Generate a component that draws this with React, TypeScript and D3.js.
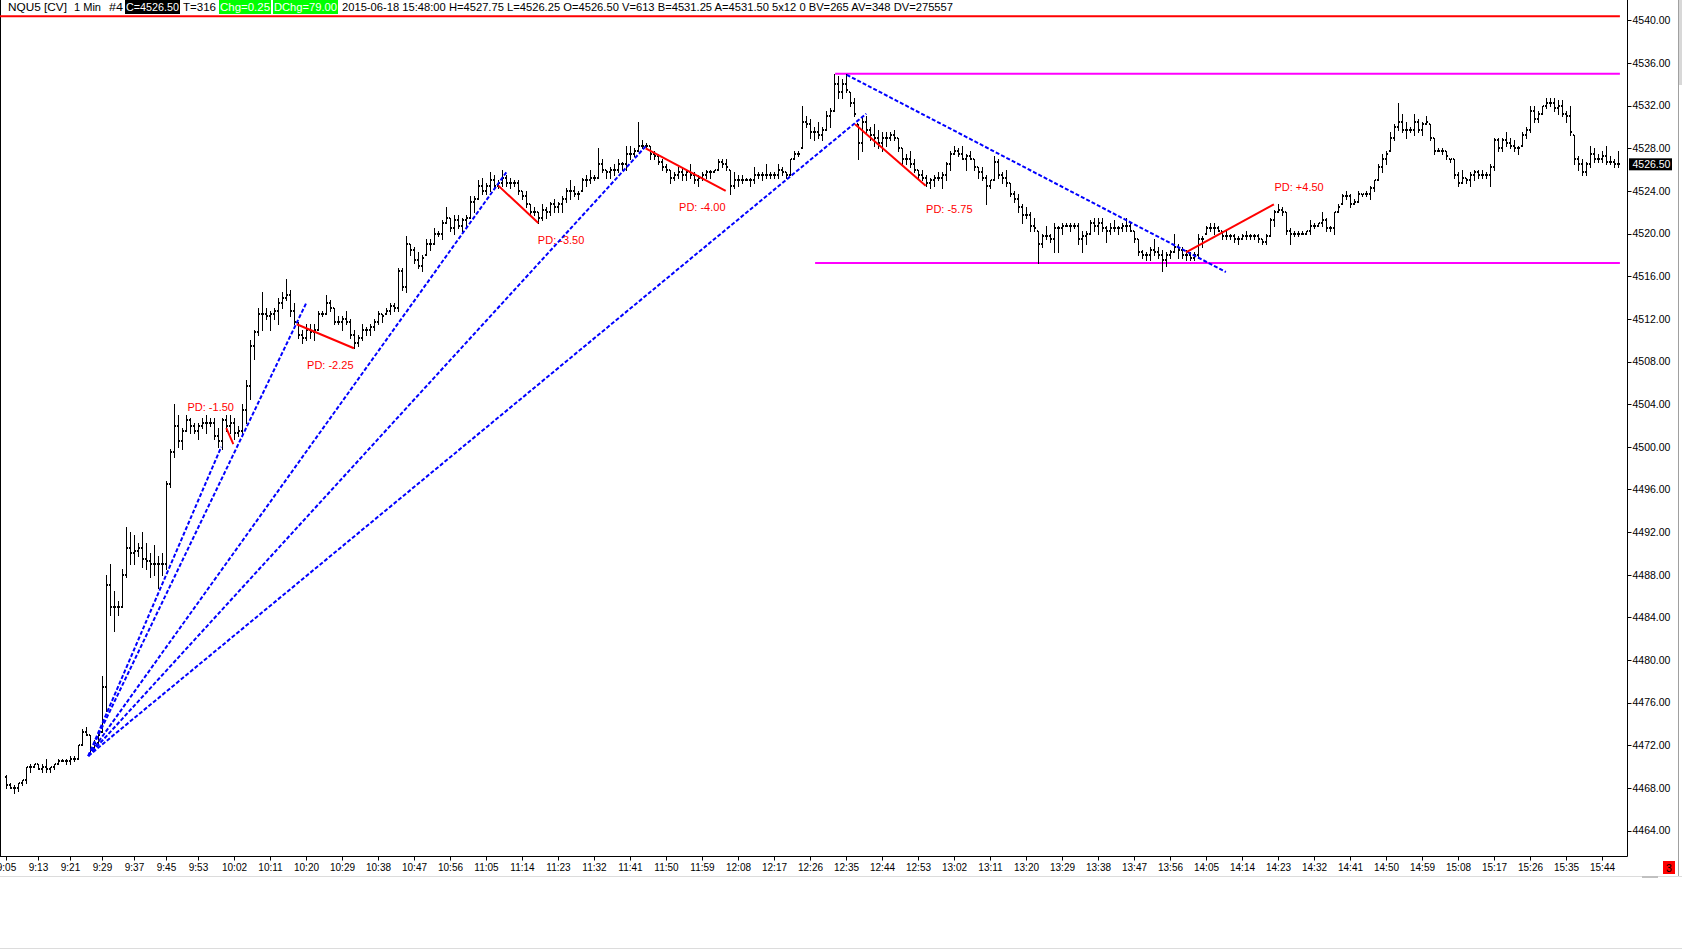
import * as d3 from "d3";

// NQU5 1 minute bars, 2015-06-18, first bar 9:05
const SESSION_START = "9:05";
const FIRST_OPEN = 4469;

const highs = [
  4469.25, 4468.5, 4468.25, 4468.5, 4468.75, 4470, 4470.25, 4470.25, 4470.25, 4470.25,
  4470.75, 4470, 4470.25, 4470.75, 4470.75, 4470.75, 4471, 4471, 4472, 4473.5,
  4473.75, 4473, 4472.5, 4473.25, 4478.5, 4488, 4489, 4486.5, 4485.5, 4488.5,
  4492.5, 4492, 4491.75, 4491, 4492, 4491, 4490, 4490.75, 4489.75, 4490,
  4496.75, 4499.75, 4504, 4503, 4501.75, 4503, 4502.75, 4502.25, 4502.25, 4502.75,
  4503, 4502.75, 4502.75, 4501.75, 4502.75, 4503, 4503, 4502.75, 4502, 4504,
  4506.25, 4510, 4511, 4513, 4514.5, 4513, 4512.75, 4513, 4514, 4514.5,
  4515.75, 4514.75, 4513.5, 4511.75, 4511, 4511.5, 4511.5, 4511.5, 4512.75, 4512.75,
  4514.25, 4513.75, 4513, 4512.25, 4512.25, 4512.75, 4512, 4511, 4510.5, 4511.5,
  4511.25, 4511.5, 4512, 4512.75, 4512.5, 4513, 4513.5, 4513.5, 4516.75, 4516.75,
  4519.75, 4519, 4518.75, 4518.25, 4518, 4519.5, 4519.5, 4520.5, 4520.25, 4521.25,
  4522.5, 4521.5, 4521.75, 4521.75, 4521.5, 4521.75, 4523.5, 4523.5, 4525, 4525.25,
  4524.75, 4525.75, 4525.5, 4525, 4526, 4525.5, 4525.25, 4525, 4525, 4524,
  4524, 4522.75, 4522.5, 4522, 4522.75, 4522.5, 4523, 4523.25, 4523, 4523.5,
  4524.25, 4525, 4524.5, 4524, 4525.25, 4525.5, 4526, 4525.5, 4528, 4527,
  4526, 4526.25, 4526.5, 4527, 4526.75, 4528.25, 4528.25, 4528, 4530.5, 4528.75,
  4528.5, 4528.25, 4527.75, 4527.5, 4527, 4526.5, 4526, 4525.75, 4526.25, 4526.25,
  4526, 4526.5, 4525.75, 4525.5, 4525.75, 4526, 4526, 4526, 4527, 4527,
  4527, 4526, 4525.75, 4525.5, 4525.5, 4525.25, 4525.25, 4526.25, 4525.75, 4525.75,
  4526.5, 4525.75, 4525.75, 4526.5, 4526.25, 4525.75, 4527, 4527.75, 4527.75, 4532,
  4531, 4530.75, 4530, 4530.5, 4530, 4531.5, 4531.75, 4535, 4534.75, 4534.5,
  4535, 4533.25, 4532.75, 4530.25, 4531, 4531, 4530, 4530.25, 4529.75, 4529.5,
  4529.5, 4529.5, 4529.75, 4529, 4528, 4527.5, 4527.75, 4527, 4526, 4526,
  4525.5, 4525.25, 4525.5, 4525.75, 4525.75, 4526.75, 4527.75, 4528.25, 4528, 4528.25,
  4527.5, 4527.75, 4527, 4526.25, 4526.25, 4525.5, 4525, 4527.25, 4527, 4525.75,
  4526, 4524.75, 4524, 4523.75, 4522.75, 4522.5, 4522, 4521.5, 4520.25, 4520,
  4520.75, 4520, 4521, 4520.75, 4521, 4521, 4521, 4521, 4521, 4520.25,
  4520.25, 4521.25, 4521.5, 4521.5, 4521.5, 4520.75, 4521, 4521.25, 4520.75, 4521,
  4521.5, 4521, 4520.25, 4519.5, 4518.5, 4518.25, 4518.75, 4519.5, 4518.75, 4518.5,
  4518.25, 4518.5, 4520, 4519, 4518.75, 4518.5, 4518.25, 4518.25, 4520, 4519.75,
  4520.75, 4521, 4521, 4520.75, 4520.25, 4520.25, 4520, 4520, 4519.75, 4520,
  4520.25, 4520, 4520, 4520, 4519.5, 4520, 4521.5, 4522.25, 4522.75, 4522.5,
  4522, 4520.5, 4520.25, 4520.25, 4520.25, 4520.25, 4521.25, 4521, 4521, 4522,
  4521.5, 4520.75, 4522, 4522.75, 4523.75, 4524, 4523.75, 4523.25, 4524, 4523.75,
  4524, 4524.5, 4525, 4526.5, 4527.5, 4527.75, 4529.5, 4530.25, 4532.25, 4531.25,
  4530.5, 4530, 4531.25, 4530.75, 4530.5, 4531, 4530.25, 4529, 4528, 4528,
  4527.75, 4527, 4527, 4525.75, 4526, 4525.25, 4525.75, 4526, 4526, 4526,
  4525.75, 4526.5, 4529, 4529, 4529, 4529.5, 4529, 4528.75, 4528.25, 4529.5,
  4530, 4532, 4532, 4531.5, 4532, 4532.75, 4532.75, 4532.75, 4532.5, 4532.5,
  4531.5, 4532, 4529.25, 4527.25, 4527, 4526.75, 4528.25, 4528, 4527.5, 4527.75,
  4528.25, 4527.25, 4527, 4527.75,
];

const lows = [
  4468, 4468, 4467.5, 4467.75, 4468.25, 4468.5, 4469.5, 4470, 4469.75, 4469.5,
  4469.5, 4469.5, 4469.75, 4470.25, 4470.5, 4470.25, 4470.25, 4470.5, 4470.75, 4472,
  4473, 4471.25, 4471.5, 4472.25, 4473.25, 4475.25, 4484.25, 4482.75, 4484.25, 4485,
  4487.75, 4489, 4489, 4489.75, 4488.75, 4488.5, 4487.75, 4488, 4486.75, 4488,
  4488.5, 4496.25, 4499, 4500, 4499.75, 4501.5, 4501.25, 4501.25, 4500.75, 4501.75,
  4501.25, 4502, 4500.75, 4500, 4499.75, 4501.5, 4501.25, 4500.75, 4501, 4501.25,
  4502.25, 4504.5, 4508.25, 4510.5, 4511, 4512, 4511, 4512, 4511.5, 4513,
  4513.75, 4512.25, 4511.5, 4510.25, 4509.75, 4510, 4510.25, 4510, 4511, 4512.25,
  4512.5, 4512.75, 4511.5, 4511.5, 4511, 4511.5, 4510.25, 4509.25, 4509.5, 4510,
  4510.5, 4510.5, 4511, 4511.5, 4511.75, 4512.5, 4512.5, 4512.75, 4512.75, 4514.75,
  4514.5, 4518, 4517.25, 4516.75, 4516.5, 4518, 4518.5, 4519, 4519.75, 4519.5,
  4521, 4520.25, 4520, 4520.5, 4520.25, 4520.75, 4521.5, 4522, 4523.25, 4523.75,
  4523.75, 4524, 4524.25, 4524.25, 4524.5, 4524.5, 4524.25, 4524.5, 4523.75, 4523.25,
  4522.5, 4521.75, 4521.75, 4521, 4521.25, 4521.5, 4521.75, 4522, 4522, 4522,
  4523, 4523.25, 4523.5, 4523.25, 4524, 4524.5, 4524.75, 4525, 4525.25, 4525.75,
  4525.25, 4525.25, 4525.5, 4525.75, 4526, 4526, 4527, 4527.25, 4527.75, 4528,
  4528, 4527, 4527, 4526.5, 4526, 4525.75, 4524.75, 4525, 4525.25, 4525,
  4525, 4525.25, 4524.75, 4524.5, 4525, 4525.25, 4525.25, 4525.75, 4526, 4526.25,
  4526, 4523.75, 4524.25, 4524.5, 4524.75, 4525, 4524.5, 4524.75, 4525.25, 4525,
  4525.25, 4525.25, 4525.25, 4525.25, 4525.5, 4525.25, 4525.5, 4527, 4527.25, 4528,
  4530, 4529, 4528.75, 4529, 4528.75, 4529.75, 4530, 4531.5, 4532.75, 4532.75,
  4533.25, 4532, 4531, 4527, 4527.75, 4529.5, 4528.75, 4528.25, 4528, 4527.75,
  4528.25, 4528.75, 4528.75, 4527.75, 4526.5, 4526.5, 4526.25, 4525.75, 4525.25, 4525,
  4524.5, 4524.25, 4524.5, 4525, 4524.25, 4525, 4526, 4527.5, 4527.25, 4527,
  4526, 4527, 4526, 4525.25, 4525, 4522.75, 4524.25, 4525, 4525.25, 4524.75,
  4524.5, 4523.5, 4523, 4522, 4521, 4521.5, 4520.25, 4520.25, 4517.25, 4518.75,
  4519.5, 4519.25, 4518.25, 4518.25, 4520, 4520.75, 4520.25, 4520.5, 4519, 4518.25,
  4519, 4520, 4520.25, 4520, 4520.25, 4519.25, 4520, 4520.25, 4520, 4520.25,
  4520.25, 4520.25, 4519.25, 4518, 4517.75, 4517.5, 4517.5, 4518, 4517.75, 4516.5,
  4517, 4517.75, 4518.25, 4517.75, 4517.75, 4517.5, 4517.5, 4517.5, 4517.75, 4518.75,
  4520, 4520.25, 4520, 4520.25, 4519.5, 4519.5, 4519.5, 4519.25, 4519, 4519.5,
  4519.5, 4519.5, 4519.5, 4519.25, 4519, 4519, 4519.75, 4520.75, 4522, 4521.75,
  4520, 4519, 4519.75, 4519.75, 4520, 4520, 4520, 4520.5, 4520.75, 4520.75,
  4520.25, 4520.25, 4520, 4522, 4522.75, 4523.25, 4522.5, 4522.75, 4523, 4523.5,
  4523.5, 4523.25, 4524, 4525, 4525.75, 4526.5, 4527.75, 4528.75, 4529.75, 4529.5,
  4529, 4529.5, 4529.25, 4529.5, 4529.25, 4530.25, 4528.75, 4527.5, 4527.75, 4527.5,
  4527, 4526.75, 4525.25, 4524.5, 4524.75, 4524.75, 4524.5, 4525, 4525.25, 4525.25,
  4525.25, 4524.5, 4526, 4527.75, 4527.75, 4528.25, 4528, 4527.75, 4527.5, 4528.25,
  4529, 4529.5, 4530.5, 4530.5, 4531.25, 4531.75, 4532, 4531.5, 4531.25, 4531,
  4530.5, 4529.25, 4526.5, 4526, 4525.5, 4525.5, 4526.25, 4526.75, 4526.75, 4526.75,
  4526.5, 4526.5, 4526.25, 4526.25,
];

const closes = [
  4468.25, 4468, 4468, 4468.5, 4468.75, 4470, 4470, 4470.25, 4469.75, 4470,
  4469.75, 4470, 4470.25, 4470.5, 4470.5, 4470.5, 4470.75, 4470.75, 4472, 4473.25,
  4473, 4471.75, 4472.25, 4473, 4477.5, 4487, 4485, 4485, 4485, 4488,
  4490.5, 4490, 4490.25, 4490.5, 4489.5, 4489.25, 4489, 4489, 4489, 4489,
  4496.5, 4499.5, 4502, 4500.5, 4501.5, 4502.5, 4502, 4501.5, 4502, 4502.25,
  4502.25, 4502.25, 4501, 4500.5, 4502.5, 4502, 4502.25, 4501.25, 4501.5, 4503.5,
  4505.75, 4509.5, 4510.75, 4512.5, 4512.5, 4512.25, 4512.5, 4512.75, 4513.5, 4514,
  4514.25, 4512.75, 4511.75, 4510.5, 4510.25, 4511, 4510.75, 4511, 4512.5, 4512.5,
  4513.5, 4513, 4511.75, 4511.75, 4512, 4511.75, 4510.5, 4509.75, 4510.25, 4511,
  4511, 4511.25, 4511.75, 4512.5, 4512.25, 4512.75, 4513.25, 4513, 4516.5, 4515,
  4519, 4518.5, 4517.5, 4517, 4517.75, 4519, 4519, 4520, 4520, 4521,
  4521.5, 4520.5, 4521.25, 4520.75, 4521.25, 4521.5, 4523, 4523.25, 4524.5, 4524,
  4524.5, 4525, 4524.5, 4524.75, 4525.25, 4524.75, 4524.75, 4524.75, 4524, 4523.5,
  4522.75, 4522, 4522, 4521.5, 4522.25, 4522, 4522.75, 4522.5, 4522.75, 4523.25,
  4524, 4524, 4523.75, 4523.75, 4525, 4525, 4525.25, 4525.25, 4526.5, 4526,
  4525.75, 4526, 4526, 4526.5, 4526.5, 4527.5, 4527.5, 4527.75, 4528.25, 4528.25,
  4528.25, 4527.5, 4527.25, 4526.75, 4526.25, 4526, 4525.25, 4525.5, 4525.75, 4525.5,
  4525.75, 4525.5, 4525, 4525.25, 4525.5, 4525.75, 4525.75, 4526, 4526.75, 4526.5,
  4526.25, 4524.5, 4525, 4525, 4525, 4525, 4525, 4525.5, 4525.5, 4525.5,
  4525.5, 4525.5, 4525.5, 4526, 4525.75, 4525.5, 4527, 4527.5, 4527.5, 4530.5,
  4530.25, 4529.5, 4529.5, 4529.25, 4529.75, 4531, 4531.5, 4534, 4533.25, 4534,
  4533.5, 4532.25, 4531.25, 4528.5, 4530.5, 4529.75, 4529.25, 4529, 4528.5, 4529,
  4529, 4529.25, 4529, 4528, 4527, 4527, 4526.5, 4526, 4525.5, 4525.25,
  4524.75, 4525, 4525.25, 4525.25, 4525.5, 4526.5, 4527.5, 4527.75, 4527.5, 4527,
  4527.25, 4527, 4526.25, 4525.75, 4525.25, 4524.5, 4525, 4526.75, 4525.5, 4525.25,
  4524.75, 4523.75, 4523.25, 4522.5, 4521.75, 4521.75, 4520.75, 4520.5, 4519, 4519.75,
  4519.75, 4519.5, 4520.5, 4520.5, 4520.75, 4520.75, 4520.75, 4520.75, 4519.5, 4519.75,
  4520, 4521, 4520.75, 4521, 4520.5, 4520.25, 4520.5, 4520.5, 4520.5, 4520.75,
  4520.75, 4520.25, 4519.5, 4518.25, 4518, 4518, 4518.5, 4518.25, 4518, 4517.5,
  4518, 4518.25, 4518.75, 4518.5, 4518, 4518, 4517.75, 4518, 4519.5, 4519.5,
  4520.5, 4520.5, 4520.5, 4520.25, 4519.75, 4519.75, 4519.75, 4519.5, 4519.5, 4519.75,
  4519.75, 4519.75, 4519.75, 4519.5, 4519.25, 4519.75, 4521.25, 4522, 4522.25, 4522,
  4520.25, 4520, 4520, 4520, 4520, 4520.25, 4520.75, 4520.75, 4521, 4521.25,
  4520.5, 4520.5, 4522, 4522.5, 4523.5, 4523.5, 4522.75, 4523, 4523.75, 4523.75,
  4523.75, 4524.25, 4525, 4526.25, 4527, 4527.5, 4529, 4530, 4530.5, 4529.75,
  4529.75, 4529.75, 4530.5, 4529.75, 4530.25, 4530.5, 4529, 4527.75, 4527.75, 4527.75,
  4527.25, 4527, 4525.5, 4524.75, 4525.25, 4525, 4525.5, 4525.75, 4525.5, 4525.5,
  4525.5, 4526.25, 4528.75, 4528, 4528.75, 4528.5, 4528.25, 4528, 4528, 4529.25,
  4529.75, 4531.5, 4530.75, 4531.25, 4532, 4532.25, 4532.25, 4531.75, 4532, 4531.25,
  4531, 4529.5, 4527, 4526.5, 4525.75, 4526.5, 4527.5, 4527, 4527, 4527.25,
  4526.75, 4526.75, 4526.5, 4526.5,
];

const timeLabels = [
  "9:05", "9:13", "9:21", "9:29", "9:37", "9:45", "9:53", "10:02", "10:11", "10:20",
  "10:29", "10:38", "10:47", "10:56", "11:05", "11:14", "11:23", "11:32", "11:41", "11:50",
  "11:59", "12:08", "12:17", "12:26", "12:35", "12:44", "12:53", "13:02", "13:11", "13:20",
  "13:29", "13:38", "13:47", "13:56", "14:05", "14:14", "14:23", "14:32", "14:41", "14:50",
  "14:59", "15:08", "15:17", "15:26", "15:35", "15:44",
];

const priceTicks = [
  4464, 4468, 4472, 4476, 4480, 4484, 4488, 4492, 4496, 4500,
  4504, 4508, 4512, 4516, 4520, 4524, 4528, 4532, 4536, 4540,
];

// drawings, in (bar index, price)
const fanOrigin = { bar: 20.5, price: 4471 };
const fanTargets = [
  { bar: 53.75, price: 4500 },
  { bar: 75, price: 4513.5 },
  { bar: 125, price: 4525.75 },
  { bar: 160, price: 4528.25 },
  { bar: 215, price: 4531.25 },
];
const downTrend = { from: { bar: 210.1, price: 4534.9 }, to: { bar: 304.9, price: 4516.4 } };

const redLevel = { price: 4540.4, from: -2, to: 403.4 };
const rangeLevels = [
  { price: 4535, from: 207.2, to: 403.4 },
  { price: 4517.25, from: 202.2, to: 403.4 },
];

const priceDiffs = [
  { a: [55, 4501.75], b: [56.75, 4500.25], label: "PD: -1.50", at: [51.1, 4503.7] },
  { a: [72.6, 4511.5], b: [86.9, 4509.25], label: "PD: -2.25", at: [81, 4507.7] },
  { a: [123, 4524.5], b: [133, 4521], label: "PD: -3.50", at: [138.7, 4519.4] },
  { a: [159.85, 4528], b: [179.85, 4524], label: "PD: -4.00", at: [174, 4522.5] },
  { a: [212.2, 4530.25], b: [229.85, 4524.5], label: "PD: -5.75", at: [235.75, 4522.3] },
  { a: [294.9, 4518.25], b: [316.9, 4522.75], label: "PD: +4.50", at: [323.2, 4524.4] },
];

const lastPrice = 4526.5;
const headerRest =
  "2015-06-18 15:48:00 H=4527.75 L=4526.25 O=4526.50 V=613 B=4531.25 A=4531.50 5x12 0 BV=265 AV=348 DV=275557";

const W = 1682;
const H = 949;
const AXIS_X = 1627.5;
const AXIS_Y = 856.5;
const FONT = "'Liberation Sans', Arial, sans-serif";

function minutesOf(t: string) {
  const [h, m] = t.split(":").map(Number);
  return h * 60 + m;
}

export default function App() {
  const x = d3.scaleLinear().domain([0, closes.length - 1]).range([6.3, 6.3 + 4 * (closes.length - 1)]);
  const y = d3.scaleLinear().domain([4464, 4540]).range([830.6, 20.4]);
  const start = minutesOf(SESSION_START);

  const bars = closes.map((c, i) => {
    const prev = i === 0 ? FIRST_OPEN : closes[i - 1];
    const o = Math.min(highs[i], Math.max(lows[i], prev));
    const px = Math.round(x(i));
    const yh = Math.round(y(highs[i]));
    const yl = Math.round(y(lows[i]));
    return { px, yh, yl, yo: Math.round(y(o)), yc: Math.round(y(c)) };
  });

  const line = (x1: number, y1: number, x2: number, y2: number) => ({
    x1: x(x1), y1: y(y1), x2: x(x2), y2: y(y2),
  });

  return (
    <svg
      width={W}
      height={H}
      viewBox={`0 0 ${W} ${H}`}
      style={{ position: "absolute", left: 0, top: 0, display: "block", background: "#fff" }}
      fontFamily={FONT}
    >
      <rect x={0} y={0} width={W} height={H} fill="#fff" />

      {/* header */}
      <g fontSize={11} fill="#000">
        <text x={8} y={11} textLength={59} lengthAdjust="spacingAndGlyphs">NQU5 [CV]</text>
        <text x={74} y={11} textLength={27} lengthAdjust="spacingAndGlyphs">1 Min</text>
        <text x={109} y={11} textLength={14} lengthAdjust="spacingAndGlyphs">#4</text>
        <rect x={125} y={0} width={55} height={14} fill="#000" />
        <text x={126} y={11} fill="#fff" textLength={53} lengthAdjust="spacingAndGlyphs">C=4526.50</text>
        <text x={183} y={11} textLength={33} lengthAdjust="spacingAndGlyphs">T=316</text>
        <rect x={219} y={0} width={52} height={14} fill="#00ff00" />
        <text x={220} y={11} fill="#fff" textLength={50} lengthAdjust="spacingAndGlyphs">Chg=0.25</text>
        <rect x={273} y={0} width={65} height={14} fill="#00ff00" />
        <text x={274} y={11} fill="#fff" textLength={63} lengthAdjust="spacingAndGlyphs">DChg=79.00</text>
        <text x={342} y={11} textLength={611} lengthAdjust="spacingAndGlyphs">{headerRest}</text>
      </g>

      {/* frame */}
      <line x1={0.5} y1={0} x2={0.5} y2={AXIS_Y} stroke="#000" />
      <line x1={0} y1={AXIS_Y} x2={AXIS_X} y2={AXIS_Y} stroke="#000" />
      <line x1={AXIS_X} y1={0} x2={AXIS_X} y2={AXIS_Y} stroke="#000" />

      {/* right scroll strip and bottom band */}
      <line x1={1678.5} y1={0} x2={1678.5} y2={877} stroke="#a0a0a0" />
      <rect x={1679} y={0} width={3} height={85} fill="#d8d8d8" />
      <line x1={0} y1={876.5} x2={W} y2={876.5} stroke="#dcdcdc" />
      <rect x={1642} y={876} width={16} height={2} fill="#c0c0c0" />
      <line x1={0} y1={948.5} x2={W} y2={948.5} stroke="#dcdcdc" />

      {/* price axis */}
      <g fontSize={10.5} fill="#000">
        {priceTicks.map((p) => (
          <g key={p}>
            <line x1={AXIS_X} y1={Math.round(y(p)) + 0.5} x2={AXIS_X + 4} y2={Math.round(y(p)) + 0.5} stroke="#000" />
            <text x={1632.5} y={y(p)} dy="0.36em">{p.toFixed(2)}</text>
          </g>
        ))}
      </g>
      <rect x={1629} y={y(lastPrice) - 6} width={43} height={12} fill="#000" />
      <text x={1632.5} y={y(lastPrice)} dy="0.36em" fontSize={10.5} fill="#fff">{lastPrice.toFixed(2)}</text>

      {/* time axis */}
      <g fontSize={10} fill="#000">
        {timeLabels.map((t) => {
          const tx = Math.round(x(minutesOf(t) - start)) + 0.5;
          return (
            <g key={t}>
              <line x1={tx} y1={AXIS_Y} x2={tx} y2={AXIS_Y + 4} stroke="#000" />
              <text x={tx} y={871} textAnchor="middle">{t}</text>
            </g>
          );
        })}
      </g>
      <rect x={1663} y={861} width={12} height={13} fill="#ff0000" />
      <text x={1669} y={871.5} fontSize={10.5} textAnchor="middle" fill="#000">3</text>

      {/* horizontal levels */}
      <line {...line(redLevel.from, redLevel.price, redLevel.to, redLevel.price)} stroke="#ff0000" strokeWidth={2} />
      {rangeLevels.map((l, k) => (
        <line key={k} {...line(l.from, l.price, l.to, l.price)} stroke="#ff00ff" strokeWidth={2} />
      ))}

      {/* OHLC bars */}
      <g fill="#000" shapeRendering="crispEdges">
        {bars.map((b, i) => (
          <g key={i}>
            <rect x={b.px} y={b.yh} width={1} height={Math.max(1, b.yl - b.yh + 1)} />
            <rect x={b.px - 1} y={b.yo - 1} width={1} height={2} />
            <rect x={b.px + 1} y={b.yc - 1} width={1} height={2} />
          </g>
        ))}
      </g>

      {/* fan + trend lines */}
      <g stroke="#0000ff" strokeWidth={2} strokeDasharray="4 2" fill="none">
        {fanTargets.map((t, k) => (
          <line key={k} {...line(fanOrigin.bar, fanOrigin.price, t.bar, t.price)} />
        ))}
        <line {...line(downTrend.from.bar, downTrend.from.price, downTrend.to.bar, downTrend.to.price)} />
      </g>

      {/* price difference tools */}
      {priceDiffs.map((d, k) => (
        <g key={k}>
          <line {...line(d.a[0], d.a[1], d.b[0], d.b[1])} stroke="#ff0000" strokeWidth={2} />
          <text x={x(d.at[0])} y={y(d.at[1])} dy="0.36em" textAnchor="middle" fontSize={11} fill="#ff0000">
            {d.label}
          </text>
        </g>
      ))}
    </svg>
  );
}
